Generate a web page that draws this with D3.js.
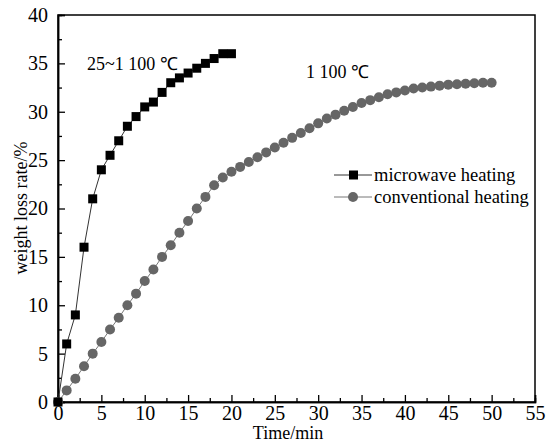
<!DOCTYPE html>
<html><head><meta charset="utf-8">
<script src="https://cdn.jsdelivr.net/npm/d3@7"></script>
<style>body{margin:0;background:#fff}svg{display:block}</style>
</head><body>
<script>
const microTime = [0,1,2,3,4,5,6,7,8,9,10,11,12,13,14,15,16,17,18,19,20];
const microValues = [0,6,9,16,21,24,25.5,27,28.5,29.5,30.5,31,32,33,33.5,34,34.5,35,35.5,36,36];
const convTime = d3.range(0,51);
const convValues = [0,1.2,2.4,3.7,5,6.2,7.5,8.7,10,11.2,12.5,13.7,15,16.2,17.5,18.7,20,21.2,22.4,23.2,23.8,24.3,24.8,25.3,25.8,26.3,26.8,27.3,27.8,28.3,28.8,29.3,29.7,30.1,30.5,30.9,31.2,31.5,31.8,32.0,32.2,32.4,32.5,32.6,32.7,32.8,32.85,32.9,32.95,33,33];
const xTicks = [0,5,10,15,20,25,30,35,40,45,50,55];
const yTicks = [0,5,10,15,20,25,30,35,40];
const seriesNames = ["microwave heating","conventional heating"];
const annotations = ["25~1 100 \u2103","1 100 \u2103"];

const W=546,H=445;
const m={l:58,r:11,t:15,b:43};
const svg=d3.select("body").append("svg").attr("width",W).attr("height",H);
const x=d3.scaleLinear().domain([0,55]).range([m.l,W-m.r]);
const y=d3.scaleLinear().domain([0,40]).range([H-m.b,m.t]);
const font="'Liberation Serif','Times New Roman',serif";

// frame
svg.append("rect").attr("x",x(0)).attr("y",y(40)).attr("width",x(55)-x(0)).attr("height",y(0)-y(40))
  .attr("fill","none").attr("stroke","#000").attr("stroke-width",1.5);

svg.append("g").attr("transform",`translate(0,${y(0)})`)
  .call(d3.axisBottom(x).tickValues(xTicks).tickSize(-7).tickPadding(4).tickFormat(d3.format("d")));
svg.append("g").attr("transform",`translate(${x(0)},0)`)
  .call(d3.axisLeft(y).tickValues(yTicks).tickSize(-7).tickPadding(10).tickFormat(d3.format("d")));
// minor ticks
svg.append("g").attr("transform",`translate(0,${y(0)})`)
  .call(d3.axisBottom(x).tickValues(xTicks.slice(0,-1).map(d=>d+2.5)).tickSize(-4).tickFormat(""));
svg.append("g").attr("transform",`translate(${x(0)},0)`)
  .call(d3.axisLeft(y).tickValues(yTicks.slice(0,-1).map(d=>d+2.5)).tickSize(-4).tickFormat(""));
svg.selectAll(".domain").attr("stroke","#000").attr("stroke-width",1.5);
svg.selectAll(".tick line").attr("stroke","#000").attr("stroke-width",1.3);
svg.selectAll(".tick text").attr("font-family",font).attr("font-size",20).attr("fill","#000");

svg.append("text").attr("x",288).attr("y",439).attr("text-anchor","middle")
  .attr("font-family",font).attr("font-size",18).text("Time/min");
svg.append("text").attr("transform",`translate(27,208) rotate(-90)`).attr("text-anchor","middle")
  .attr("font-family",font).attr("font-size",18).text("weight loss rate/%");

// conventional
const conv=convTime.map((t,i)=>[t,convValues[i]]);
svg.append("path").datum(conv).attr("fill","none").attr("stroke","#777").attr("stroke-width",1)
  .attr("d",d3.line().x(d=>x(d[0])).y(d=>y(d[1])));
svg.append("g").selectAll("circle").data(conv).join("circle")
  .attr("cx",d=>x(d[0])).attr("cy",d=>y(d[1])).attr("r",5).attr("fill","#666");

// microwave
const mic=microTime.map((t,i)=>[t,microValues[i]]);
svg.append("path").datum(mic).attr("fill","none").attr("stroke","#333").attr("stroke-width",1)
  .attr("d",d3.line().x(d=>x(d[0])).y(d=>y(d[1])));
svg.append("g").selectAll("rect").data(mic).join("rect")
  .attr("x",d=>x(d[0])-4.5).attr("y",d=>y(d[1])-4.5).attr("width",9).attr("height",9).attr("fill","#000");

// annotations
svg.append("text").attr("x",87).attr("y",70).attr("font-family",font).attr("font-size",18).text(annotations[0]);
svg.append("text").attr("x",306).attr("y",78).attr("font-family",font).attr("font-size",18).text(annotations[1]);

// legend
const lg=svg.append("g");
[0,1].forEach(i=>{
  const ly=175+i*22;
  lg.append("line").attr("x1",334).attr("x2",372).attr("y1",ly).attr("y2",ly).attr("stroke",i?"#777":"#333");
  if(i===0) lg.append("rect").attr("x",349).attr("y",ly-4.5).attr("width",9).attr("height",9).attr("fill","#000");
  else lg.append("circle").attr("cx",353).attr("cy",ly).attr("r",5).attr("fill","#666");
  lg.append("text").attr("x",374).attr("y",ly+5.5).attr("font-family",font).attr("font-size",18.5).text(seriesNames[i]);
});
</script>
</body></html>
